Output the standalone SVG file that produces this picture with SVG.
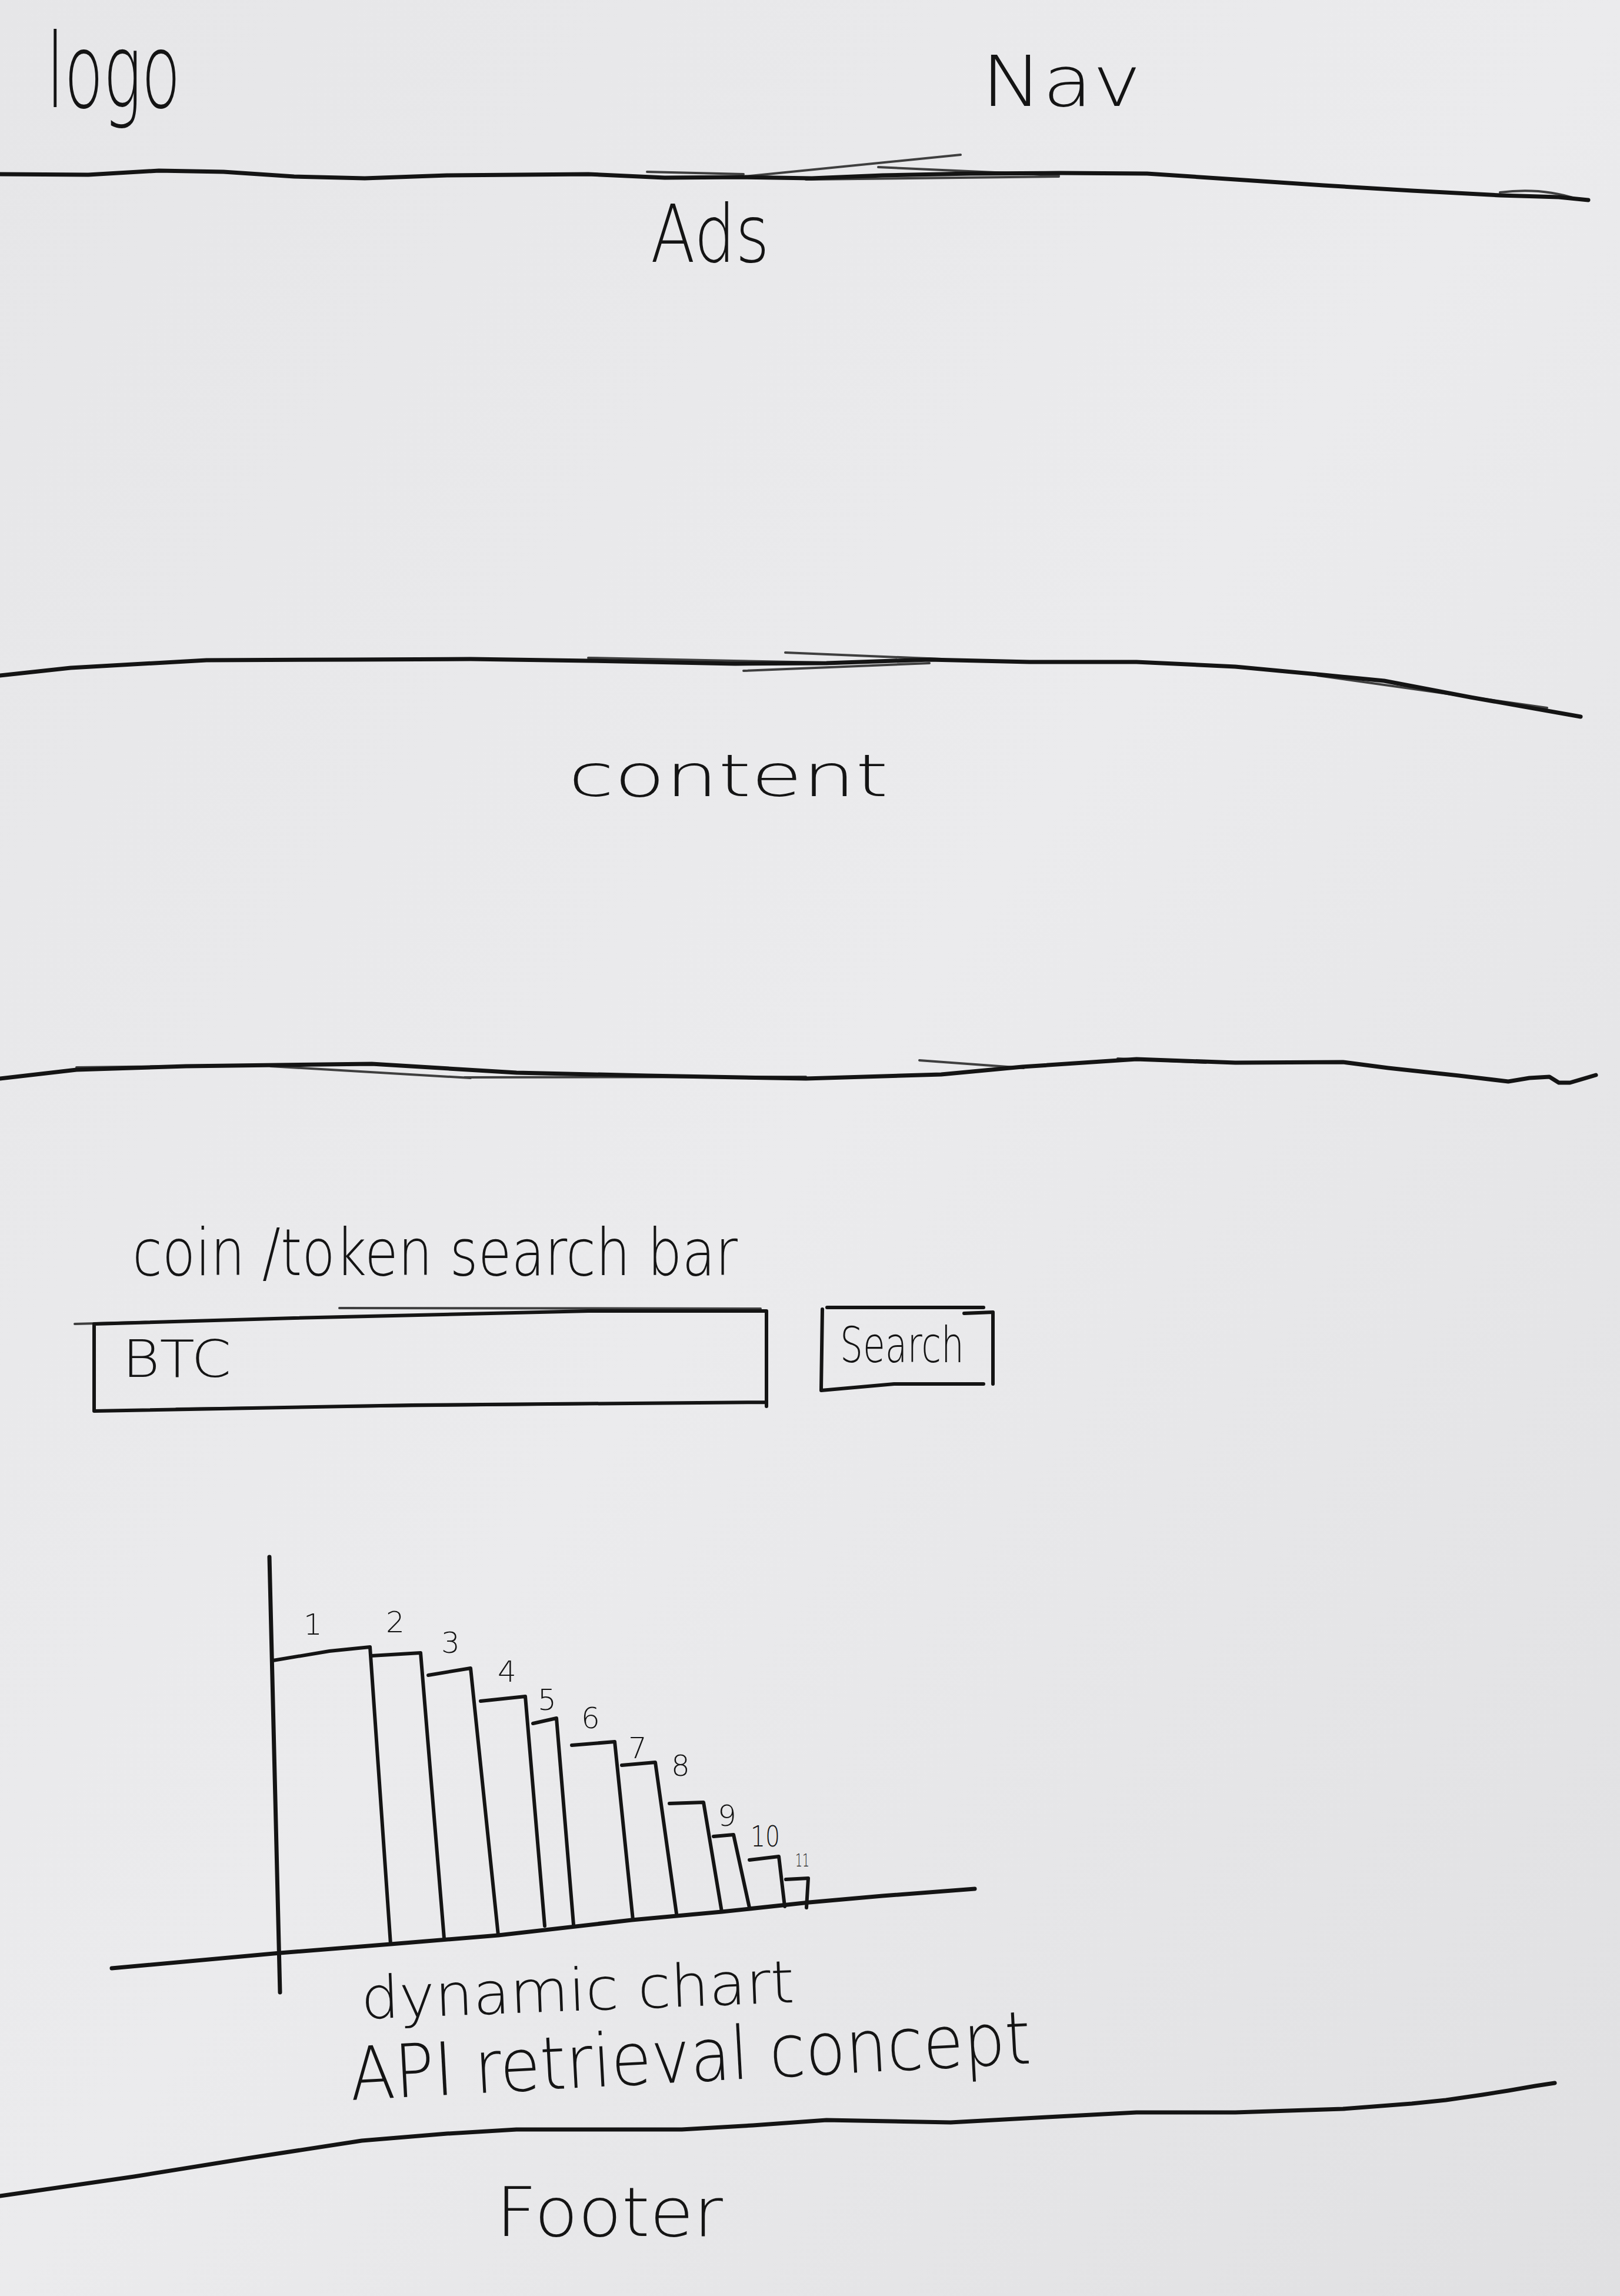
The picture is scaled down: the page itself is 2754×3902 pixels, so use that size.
<svg xmlns="http://www.w3.org/2000/svg" width="2754" height="3902" viewBox="0 0 2754 3902">
<defs>
<linearGradient id="paper" x1="0" y1="0" x2="1" y2="1">
<stop offset="0" stop-color="#e6e6e8"/>
<stop offset="0.5" stop-color="#ebebed"/>
<stop offset="1" stop-color="#e0e0e2"/>
</linearGradient>
<style>
.pen{fill:none;stroke:#141414;stroke-linecap:round;stroke-linejoin:round}
.div{stroke-width:7}
.thin{stroke-width:4;opacity:0.8}
.box{stroke-width:6}
.bar{stroke-width:6}
.hand{font-family:"DejaVu Sans","Liberation Sans",sans-serif;font-weight:300;fill:#141414}
</style>
</defs>
<rect width="2754" height="3902" fill="url(#paper)"/>

<g id="header">
<text class="hand" x="79" y="182" font-size="175" textLength="228" lengthAdjust="spacingAndGlyphs">logo</text>
<text class="hand" x="1668" y="180" font-size="120" textLength="272" lengthAdjust="spacingAndGlyphs">Nav</text>
</g>

<g id="dividers">
<path class="pen div" d="M0,296 L150,297 L270,290 L380,292 L500,300 L620,303 L760,298 L880,297 L1000,296 L1130,302 L1260,301 L1380,303 L1500,298 L1650,295 L1800,294 L1950,295 L2100,305 L2250,315 L2400,324 L2550,332 L2650,335 L2700,340"/>
<path class="pen thin" d="M1264,300 L1633,263 M1100,292 L1264,296 M1493,284 L1800,298 M1370,305 L1800,300 M2550,327 Q2620,318 2680,338"/>
<path class="pen div" d="M0,1148 L120,1135 L351,1122 L600,1121 L800,1120 L1000,1123 L1250,1128 L1405,1127 L1580,1121 L1750,1125 L1932,1125 L2100,1133 L2250,1147 L2353,1157 L2500,1185 L2687,1218"/>
<path class="pen thin" d="M1335,1109 L1600,1120 M1264,1140 L1580,1127 M1000,1118 L1400,1126 M2240,1148 L2630,1203"/>
<path class="pen div" d="M0,1833 L130,1818 L316,1812 L632,1808 L878,1823 L1100,1828 L1370,1833 L1600,1826 L1738,1813 L1932,1800 L2100,1806 L2283,1805 L2360,1815 L2480,1828 L2564,1838 L2600,1832 L2634,1830 L2650,1840 L2669,1840 L2713,1827"/>
<path class="pen thin" d="M130,1814 L640,1808 M460,1812 L800,1832 M790,1831 L1370,1830 M1563,1802 L1740,1815 M1900,1799 L2050,1806"/>
<path class="pen div" d="M0,3732 L228,3699 L420,3668 L615,3638 L760,3626 L878,3619 L1159,3619 L1280,3612 L1405,3603 L1616,3607 L1780,3598 L1932,3590 L2100,3590 L2283,3584 L2400,3575 L2458,3569 L2520,3560 L2564,3553 L2610,3545 L2643,3540"/>
</g>

<g id="ads">
<text class="hand" x="1106" y="445" font-size="135" textLength="202" lengthAdjust="spacingAndGlyphs">Ads</text>
</g>

<g id="content">
<text class="hand" x="966" y="1353" font-size="100" textLength="544" lengthAdjust="spacingAndGlyphs">content</text>
</g>

<g id="search-section">
<text class="hand" x="225" y="2167" font-size="110" textLength="1029" lengthAdjust="spacingAndGlyphs">coin /token search bar</text>
</g>

<g id="search-input">
<path class="pen box" d="M160,2250 L500,2240 L1000,2228 L1303,2228 L1303,2390 M160,2250 L160,2398 L700,2388 L1303,2383"/>
<path class="pen thin" d="M127,2250 L620,2237 M577,2223 L1293,2224 M300,2394 L1000,2386"/>
<text class="hand" x="208" y="2340" font-size="88" textLength="185" lengthAdjust="spacingAndGlyphs">BTC</text>
</g>

<g id="search-button">
<path class="pen box" d="M1406,2222 L1672,2222 M1639,2232 L1688,2230 L1688,2352 M1398,2225 L1396,2362 M1396,2363 L1520,2352 L1672,2352"/>
<text class="hand" x="1428" y="2315" font-size="83" textLength="211" lengthAdjust="spacingAndGlyphs">Search</text>
</g>

<g id="chart">
<path class="pen div" d="M458,2646 L476,3386"/>
<path class="pen div" d="M190,3345 L476,3319 L664,3304 L847,3289 L1074,3263 L1227,3249 L1376,3233 L1500,3222 L1657,3210"/>
<path class="pen bar" d="M464,2822 L560,2806 L629,2799 L664,3304"/>
<path class="pen bar" d="M631,2814 L715,2809 L755,3294"/>
<path class="pen bar" d="M728,2847 L800,2835 L847,3289"/>
<path class="pen bar" d="M817,2891 L893,2883 L926,3273"/>
<path class="pen bar" d="M906,2929 L946,2920 L975,3271"/>
<path class="pen bar" d="M972,2966 L1045,2960 L1076,3263"/>
<path class="pen bar" d="M1057,3000 L1114,2995 L1150,3252"/>
<path class="pen bar" d="M1138,3065 L1196,3063 L1227,3249"/>
<path class="pen bar" d="M1213,3121 L1247,3118 L1274,3242"/>
<path class="pen bar" d="M1274,3161 L1324,3155 L1334,3240"/>
<path class="pen bar" d="M1336,3194 L1374,3192 L1371,3242"/>
<g class="hand" font-size="50">
<text x="516" y="2778">1</text>
<text x="656" y="2774">2</text>
<text x="750" y="2809">3</text>
<text x="846" y="2858">4</text>
<text x="914" y="2906">5</text>
<text x="988" y="2937">6</text>
<text x="1068" y="2988">7</text>
<text x="1141" y="3018">8</text>
<text x="1220" y="3103">9</text>
<text x="1276" y="3138" textLength="50" lengthAdjust="spacingAndGlyphs">10</text>
<text x="1352" y="3172" font-size="30" textLength="24" lengthAdjust="spacingAndGlyphs">11</text>
</g>
<text class="hand" x="615" y="3431" font-size="100" textLength="737" lengthAdjust="spacingAndGlyphs" transform="rotate(-2.2 615 3431)">dynamic chart</text>
<text class="hand" x="597" y="3569" font-size="125" textLength="1159" lengthAdjust="spacingAndGlyphs" transform="rotate(-3.1 597 3569)">API retrieval concept</text>
</g>

<g id="footer">
<text class="hand" x="843" y="3800" font-size="115" textLength="386" lengthAdjust="spacingAndGlyphs">Footer</text>
</g>
</svg>
